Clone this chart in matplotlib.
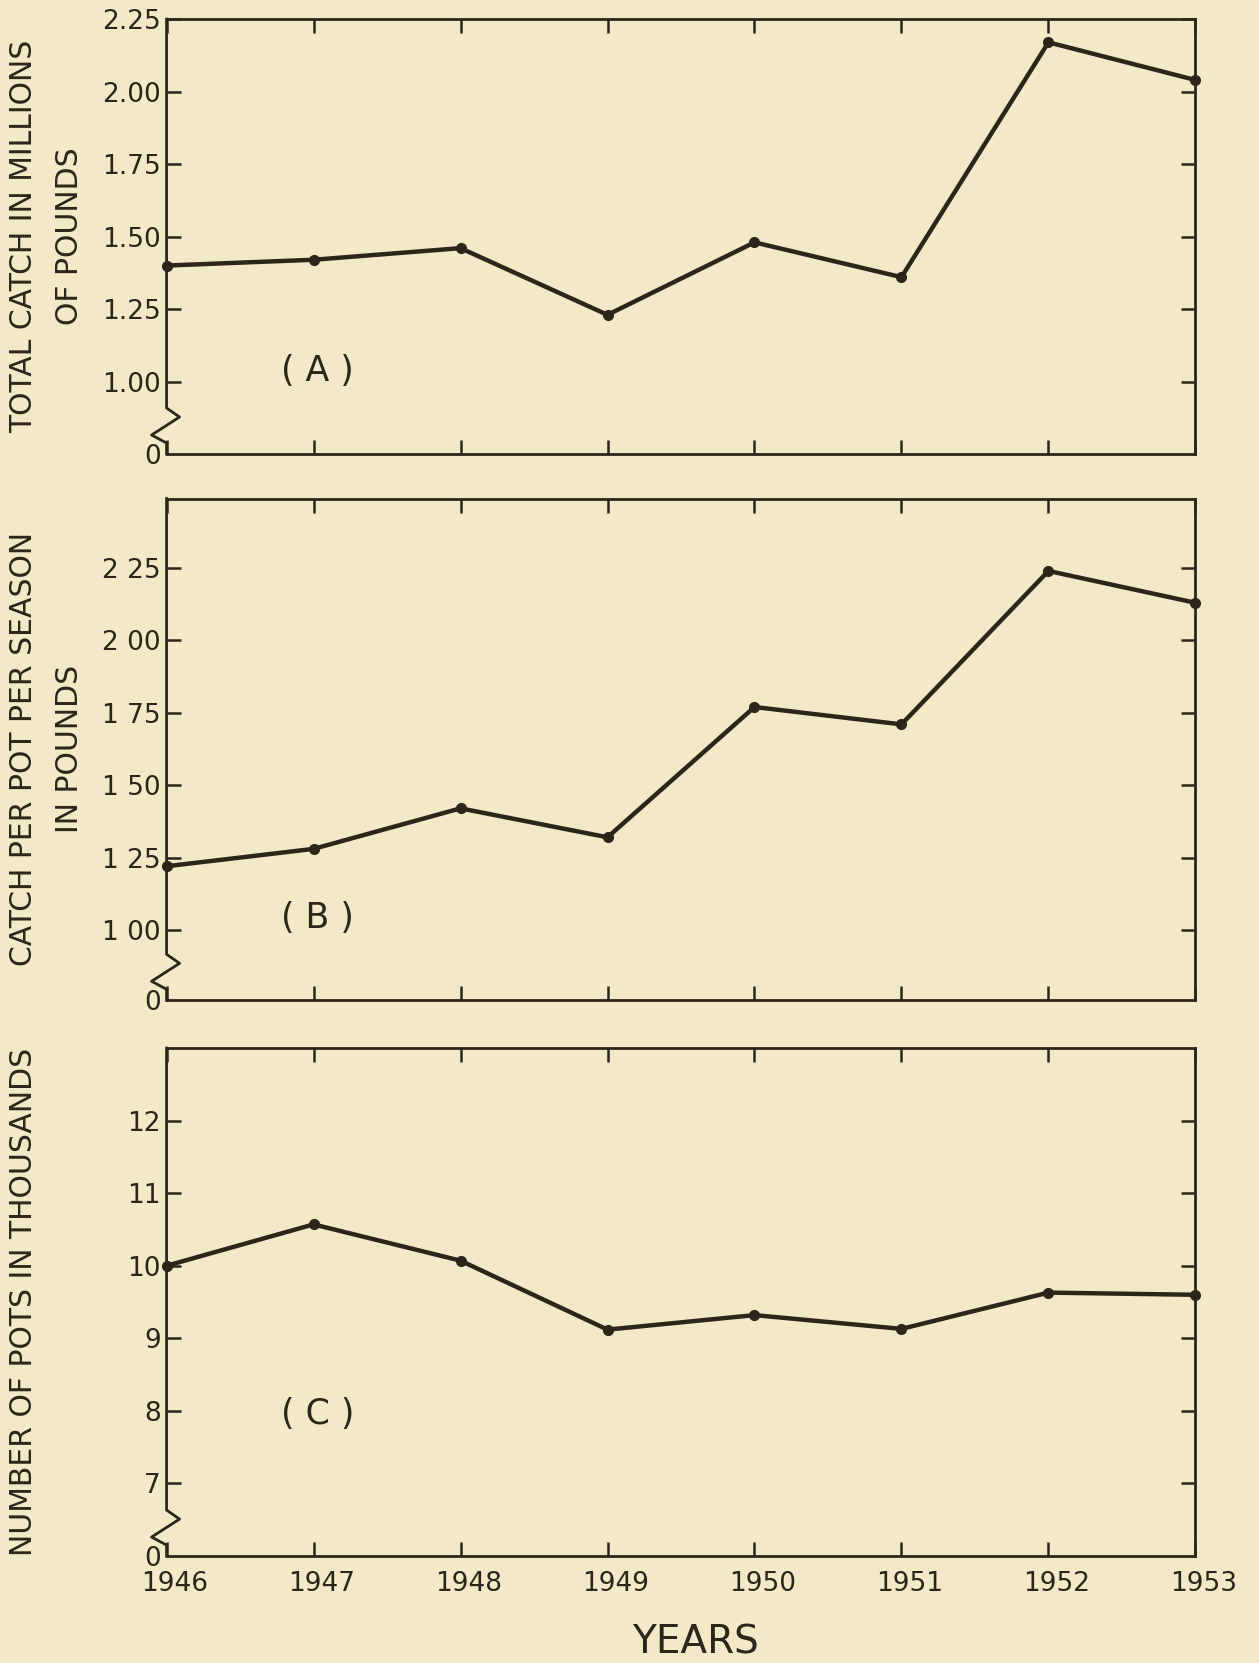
import numpy as np
import matplotlib.pyplot as plt
import matplotlib.transforms as mtransforms

years = [1946, 1947, 1948, 1949, 1950, 1951, 1952, 1953]

# (A) total catch, millions of pounds
total_catch = [1.40, 1.42, 1.46, 1.23, 1.48, 1.36, 2.17, 2.04]
# (B) catch per pot per season, pounds
catch_per_pot = [1.22, 1.28, 1.42, 1.32, 1.77, 1.71, 2.24, 2.13]
# (C) number of pots, thousands
num_pots = [10.0, 10.57, 10.07, 9.12, 9.32, 9.13, 9.63, 9.60]

ticks_a = [1.00, 1.25, 1.50, 1.75, 2.00, 2.25]
labels_a = ["1.00", "1.25", "1.50", "1.75", "2.00", "2.25"]
ticks_b = [1.00, 1.25, 1.50, 1.75, 2.00, 2.25]
labels_b = ["1 00", "1 25", "1 50", "1 75", "2 00", "2 25"]
ticks_c = [7, 8, 9, 10, 11, 12]
labels_c = ["7", "8", "9", "10", "11", "12"]

BG = "#f1e9c7"
INK = "#2b2619"

plt.rcParams["font.family"] = ["DejaVu Sans"]

fig = plt.figure(figsize=(12.59, 16.63), dpi=100, facecolor=BG)

# axes rectangles [left, bottom, width, height] in figure fractions
left, right = 0.1323, 0.9495
rects = [
    [left, 0.727, right - left, 0.9885 - 0.727],
    [left, 0.3985, right - left, 0.7002 - 0.3985],
    [left, 0.0643, right - left, 0.3698 - 0.0643],
]
panels = [
    dict(y=total_catch, ylim=(0.75, 2.25), ticks=ticks_a, labels=labels_a,
         tag="( A )", tag_y=0.19,
         ylabel=["TOTAL CATCH IN MILLIONS", "OF POUNDS"]),
    dict(y=catch_per_pot, ylim=(0.757, 2.49), ticks=ticks_b, labels=labels_b,
         tag="( B )", tag_y=0.165,
         ylabel=["CATCH PER POT PER SEASON", "IN POUNDS"]),
    dict(y=num_pots, ylim=(6.0, 13.0), ticks=ticks_c, labels=labels_c,
         tag="( C )", tag_y=0.28,
         ylabel=["NUMBER OF POTS IN THOUSANDS"]),
]

W, H = 1259, 1663
for rect, p in zip(rects, panels):
    ax = fig.add_axes(rect)
    ax.set_facecolor(BG)
    ax.plot(years, p["y"], color=INK, lw=3.2, marker="o", ms=7,
            solid_joinstyle="round", clip_on=False, zorder=3)
    ax.set_xlim(1946, 1953)
    ax.set_ylim(*p["ylim"])

    ax.set_xticks(years)
    ax.set_yticks([p["ylim"][0]] + p["ticks"])
    ax.set_yticklabels(["0"] + p["labels"])
    ax.tick_params(direction="in", length=10, width=1.8, color=INK,
                   top=True, right=True, labelsize=19, labelcolor=INK, pad=4)
    first = ax.yaxis.get_major_ticks()[0]
    first.tick1line.set_visible(False)
    first.tick2line.set_visible(False)

    if p is panels[-1]:
        ax.set_xticklabels([str(y) for y in years])
        ax.tick_params(axis="x", pad=11)
        shift = mtransforms.ScaledTranslation(8 / 100, 0, fig.dpi_scale_trans)
        for lab in ax.get_xticklabels():
            lab.set_transform(lab.get_transform() + shift)
    else:
        ax.set_xticklabels([])

    for s in ["top", "right", "bottom"]:
        ax.spines[s].set_color(INK)
        ax.spines[s].set_linewidth(2.0)
    ax.spines["left"].set_visible(False)

    # left spine with a zigzag break near the bottom
    aw = rect[2] * W
    ah = rect[3] * H
    px = np.array([0, 0, 13, -15, 0, 0])
    py = np.array([ah, 46, 37, 19, 11, 0])
    ax.plot(px / aw, py / ah, color=INK, lw=2.0, transform=ax.transAxes,
            clip_on=False, zorder=4)

    ax.text(0.147, p["tag_y"], p["tag"], transform=ax.transAxes,
            fontsize=25, color=INK, ha="center", va="center")

    # stacked y labels
    cy = rect[1] + rect[3] / 2
    xs = [24 / W, 70 / W]
    for i, line in enumerate(p["ylabel"]):
        fig.text(xs[i], cy, line, rotation=90, ha="center", va="center",
                 fontsize=21.5, color=INK)

fig.text(695 / W, 1 - 1642 / H, "YEARS", ha="center", va="center",
         fontsize=28, color=INK)

fig.savefig("out.png", dpi=100, facecolor=BG)
